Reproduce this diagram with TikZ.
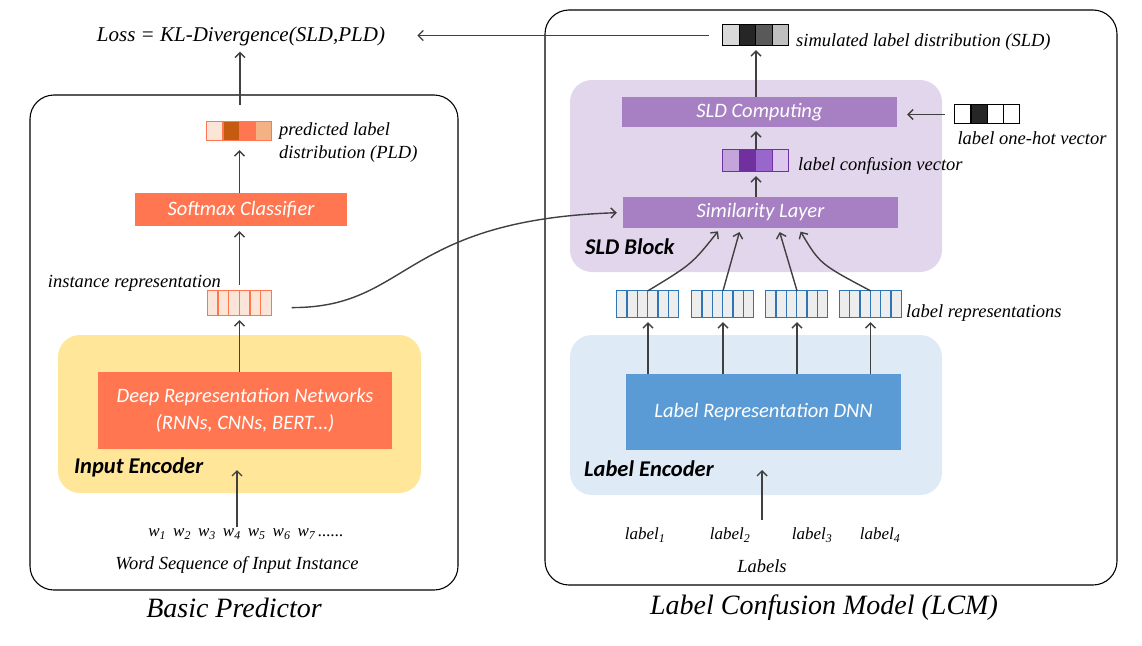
\documentclass[tikz,border=0pt]{standalone}
\usepackage{fontspec}
\setmainfont{Liberation Serif}
\newfontfamily\calfont{Carlito}
\usetikzlibrary{arrows.meta}

\definecolor{arrgray}{HTML}{404040}
\definecolor{boxorange}{HTML}{FF7650}
\definecolor{encyellow}{HTML}{FFE699}
\definecolor{sldpanel}{HTML}{E2D6EC}
\definecolor{boxpurple}{HTML}{A680C2}
\definecolor{encblue}{HTML}{DEEBF7}
\definecolor{boxblue}{HTML}{5B9BD5}
\definecolor{repborder}{HTML}{2E75B6}
\definecolor{repfill}{HTML}{EDEDED}
\definecolor{pldA}{HTML}{FBE5D6}
\definecolor{pldB}{HTML}{C55A11}
\definecolor{pldC}{HTML}{FF7650}
\definecolor{pldD}{HTML}{F4B183}
\definecolor{sldA}{HTML}{D9D9D9}
\definecolor{sldB}{HTML}{262626}
\definecolor{sldC}{HTML}{595959}
\definecolor{sldD}{HTML}{BFBFBF}
\definecolor{confA}{HTML}{C3A5DB}
\definecolor{confB}{HTML}{7030A0}
\definecolor{confC}{HTML}{9966CC}
\definecolor{confD}{HTML}{DCC8EC}

\tikzset{
  arr/.style={-{Straight Barb[length=5pt,width=10pt]}, draw=arrgray, line width=1.4pt, shorten >=4pt, shorten <=3pt},
  lbl/.style={font=\itshape\fontsize{18.5}{23}\selectfont, inner sep=2pt},
  caption/.style={font=\itshape\fontsize{28}{32}\selectfont, inner sep=0pt},
  box/.style={font=\calfont\itshape\fontsize{20.5}{27}\selectfont, text=white, inner sep=0pt},
  paneltitle/.style={font=\calfont\bfseries\itshape\fontsize{22.5}{26}\selectfont, inner sep=0pt},
  panel/.style={rounded corners=22pt, inner sep=0pt},
  outerbox/.style={draw=black, line width=1.1pt, rounded corners=24pt, inner sep=0pt},
  vecbox/.style={inner sep=0pt},
  cell/.style={line width=1.3pt}
}

\begin{document}
\begin{tikzpicture}[x=1pt,y=-1pt]
\useasboundingbox (0,0) rectangle (1142,645);

%outer boxes
\node[outerbox, minimum width=428pt, minimum height=495pt] (pred) at (244,342.5) {};
\node[outerbox, minimum width=572pt, minimum height=575pt] (lcm) at (831,297.5) {};

%panels
\node[panel, fill=encyellow, minimum width=363pt, minimum height=158pt] (inenc) at (239.5,414) {};
\node[panel, fill=sldpanel, minimum width=372pt, minimum height=192pt] (sldblock) at (756,176) {};
\node[panel, fill=encblue, minimum width=372pt, minimum height=160pt] (labenc) at (756,415) {};
\node[paneltitle, anchor=west] (inenctitle) at (74,467) {Input Encoder};
\node[paneltitle, anchor=west] (sldtitle) at (585,247) {SLD Block};
\node[paneltitle, anchor=west] (labenctitle) at (584,469) {Label Encoder};

%boxes
\node[box, fill=boxorange, minimum width=212pt, minimum height=33pt] (softmax) at (241,209.5) {Softmax Classifier};
\node[box, fill=boxorange, minimum width=294pt, minimum height=77pt, align=center] (deep) at (245,410.5) {Deep Representation Networks\\(RNNs, CNNs, BERT…)};
\node[box, fill=boxpurple, minimum width=275pt, minimum height=30pt] (sldcomp) at (759.5,112) {\raisebox{-1.5pt}{SLD Computing}};
\node[box, fill=boxpurple, minimum width=275pt, minimum height=31pt] (sim) at (760.5,212.5) {\raisebox{-1.5pt}{Similarity Layer}};
\node[box, fill=boxblue, minimum width=275pt, minimum height=76pt] (dnn) at (763.5,412) {Label Representation DNN};

%vectors
\node[vecbox, minimum width=65pt, minimum height=19pt] (pld) at (239.5,131.5) {};
\foreach \c [count=\i from 0] in {pldA,pldB,pldC,pldD}
  \filldraw[cell, fill=\c, draw=boxorange] ([xshift=\i*16.25pt]pld.north west) rectangle ++(16.25,19);
\node[vecbox, minimum width=64pt, minimum height=25pt] (inst) at (239.5,303.5) {};
\foreach \i in {0,...,5}
  \filldraw[cell, fill=pldA, draw=boxorange] ([xshift=\i*10.67pt]inst.north west) rectangle ++(10.67,25);
\node[vecbox, minimum width=66pt, minimum height=21pt] (sld) at (756,35.5) {};
\foreach \c [count=\i from 0] in {sldA,sldB,sldC,sldD}
  \filldraw[cell, fill=\c, draw=black] ([xshift=\i*16.5pt]sld.north west) rectangle ++(16.5,21);
\node[vecbox, minimum width=66pt, minimum height=22pt] (conf) at (756,161) {};
\foreach \c [count=\i from 0] in {confA,confB,confC,confD}
  \filldraw[cell, fill=\c, draw=confB] ([xshift=\i*16.5pt]conf.north west) rectangle ++(16.5,22);
\node[vecbox, minimum width=65pt, minimum height=19pt] (onehot) at (987.5,114.5) {};
\foreach \c [count=\i from 0] in {white,sldB,white,white}
  \filldraw[cell, fill=\c, draw=black] ([xshift=\i*16.25pt]onehot.north west) rectangle ++(16.25,19);
\foreach \x [count=\i] in {648,723,797,870.5}
  \node[vecbox, minimum width=62pt, minimum height=27pt] (rep\i) at (\x,304.5) {};
\foreach \r in {rep1,rep2,rep3,rep4}
  \foreach \i in {0,...,5}
    \filldraw[cell, fill=repfill, draw=repborder] ([xshift=\i*10.33pt]\r.north west) rectangle ++(10.33,27);

%texts
\node[lbl, font=\itshape\fontsize{21}{24}\selectfont] (loss) at (241,36) {Loss = KL-Divergence(SLD,PLD)};
\node[lbl, anchor=west, align=left] (pldtext) at (277,142.5) {predicted label\\distribution (PLD)};
\node[lbl, anchor=east] (insttext) at (223,283) {instance representation};
\node[lbl, font=\itshape\fontsize{17}{20}\selectfont] (words) at (246,534) {w\textsubscript{1}\ \,w\textsubscript{2}\ \,w\textsubscript{3}\ \,w\textsubscript{4}\ \,w\textsubscript{5}\ \,w\textsubscript{6}\ \,w\textsubscript{7}\,......};
\node[lbl] (wordseq) at (237,565) {Word Sequence of Input Instance};
\node[caption] (predcap) at (234,608) {Basic Predictor};
\node[lbl, anchor=west] (sldtext) at (794,42) {simulated label distribution (SLD)};
\node[lbl] (onehottext) at (1032,138) {label one-hot vector};
\node[lbl, anchor=west] (conftext) at (796,166) {label confusion vector};
\node[lbl, anchor=west] (reptext) at (904,313) {label representations};
\foreach \x [count=\i] in {645,730,812,880}
  \node[lbl, font=\itshape\fontsize{17}{20}\selectfont] (lab\i) at (\x,535) {label\textsubscript{\i}};
\node[lbl] (labels) at (762,566) {Labels};
\node[caption] (lcmcap) at (824,608) {Label Confusion Model (LCM)};

%connectors
\coordinate (predtop) at (240,105);
\coordinate (wordin) at (237,470);
\coordinate (labsrc) at (762,520);
\coordinate (labin) at (762,470);
\draw[arr, shorten <=0pt] (predtop) -- (predtop |- loss.south);
\draw[arr, shorten <=14pt, shorten >=30pt] (sld.west) -- (sld.west -| loss.east);
\draw[arr, shorten <=0pt, shorten >=9pt] (softmax.north -| pld) -- (pld.south);
\draw[arr, shorten <=6pt, shorten >=5pt] (inst.north) -- (inst.north |- softmax.south);
\draw[arr, shorten <=0pt] (deep.north -| inst) -- (inst.south);
\draw[arr, shorten <=0pt, shorten >=0pt] (words.north -| wordin) -- (wordin);
\draw[arr, shorten <=20pt, shorten >=6pt] ([yshift=-4pt]inst.east) .. controls (410,308) and (400,220) .. (sim.west);
\draw[arr, shorten <=0pt] (sldcomp.north -| sld) -- (sld.south);
\draw[arr, shorten <=0pt] (conf.north) -- (conf.north |- sldcomp.south);
\draw[arr, shorten <=0pt] (sim.north -| conf) -- (conf.south);
\draw[arr, shorten <=10pt, shorten >=10pt] (onehot.west) -- (onehot.west -| sldcomp.east);
\draw[arr, shorten <=0pt] (rep1.north) .. controls (692,264) .. ([xshift=-40pt]sim.south);
\draw[arr, shorten <=0pt] (rep2.north) -- ([xshift=-20pt]sim.south);
\draw[arr, shorten <=0pt] (rep3.north) -- ([xshift=18pt]sim.south);
\draw[arr, shorten <=0pt] (rep4.north) .. controls (820,264) .. ([xshift=38pt]sim.south);
\foreach \i in {1,...,4}
  \draw[arr, shorten <=0pt] (dnn.north -| rep\i) -- (rep\i.south);
\draw[arr, shorten <=0pt, shorten >=0pt] (labsrc) -- (labin);

\end{tikzpicture}
\end{document}
